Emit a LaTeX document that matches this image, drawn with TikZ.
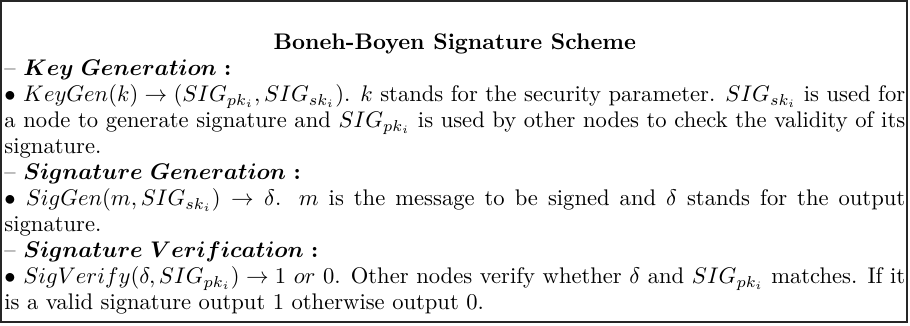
\documentclass[tikz,border=0pt]{standalone}
\usepackage{amsmath,amssymb}
\tikzset{frame/.style={draw=black!85, line width=0.55pt}}
\begin{document}
\begin{tikzpicture}[x=0.4425pt,y=-0.4425pt]
\useasboundingbox (0,0) rectangle (910,325);
\draw[frame] (1,1) rectangle (907,322);
\node[anchor=base west, inner sep=0pt] (body) at (4,49) {\begin{minipage}[t]{398.6pt}
\fontsize{10pt}{11.5pt}\selectfont
\setlength\parindent{0pt}%
\centerline{\textbf{Boneh-Boyen Signature Scheme}}\par
\vspace{0.4pt}
-- {\boldmath$Key\ Generation:$}\par
$\bullet$ $KeyGen(k)\rightarrow(SIG_{pk_i},SIG_{sk_i})$. $k$ stands for the security parameter. $SIG_{sk_i}$ is used for a node to generate signature and $SIG_{pk_i}$ is used by other nodes to check the validity of its signature.\par
-- {\boldmath$Signature\ Generation:$}\par
$\bullet$ $SigGen(m,SIG_{sk_i})\rightarrow\delta$. $m$ is the message to be signed and $\delta$ stands for the output signature.\par
-- {\boldmath$Signature\ Verification:$}\par
$\bullet$ $SigVerify(\delta,SIG_{pk_i})\rightarrow 1\ or\ 0$. Other nodes verify whether $\delta$ and $SIG_{pk_i}$ matches. If it is a valid signature output 1 otherwise output 0.
\end{minipage}};
\end{tikzpicture}
\end{document}
